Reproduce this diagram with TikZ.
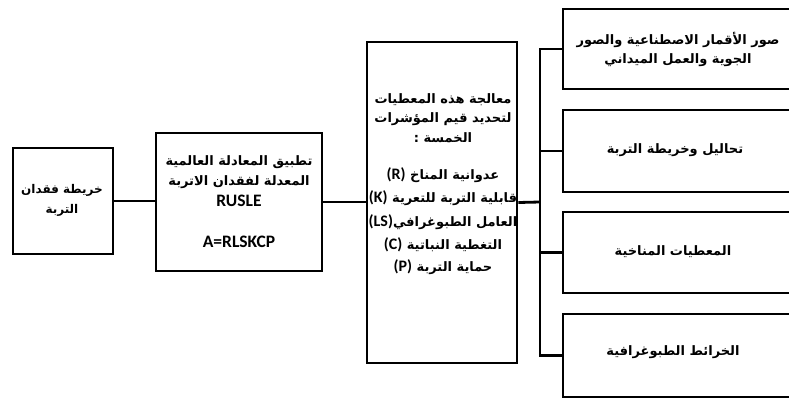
\documentclass[tikz,border=0pt]{standalone}
\usepackage{fontspec}
\TeXXeTstate=1
\newfontfamily\arfont[Script=Arabic]{DejaVu Sans}
\newfontfamily\latfont{Carlito}
\newcommand\latn[1]{{\latfont\bfseries\fontsize{16}{18}\selectfont #1}}
\newcommand\ar[1]{\beginR #1\endR}
\tikzset{
  box/.style={draw, line width=2.8pt, inner sep=0pt},
  conn/.style={line width=2.8pt},
  txt/.style={inner sep=0pt, font=\arfont\bfseries\fontsize{13}{15}\selectfont},
  lat/.style={inner sep=0pt, font=\latfont\bfseries\fontsize{17.5}{19}\selectfont}
}
\begin{document}
\begin{tikzpicture}[x=1pt,y=-1pt]
\useasboundingbox (0,0) rectangle (789,399);
% boxes
\node[box, minimum width=100pt, minimum height=106pt] (b1) at (63,201) {};
\node[box, minimum width=166pt, minimum height=138pt] (b2) at (239,202) {};
\node[box, minimum width=150pt, minimum height=321pt] (b3) at (442,202.5) {};
\node[box, minimum width=229pt, minimum height=80pt] (b4) at (677.5,49) {};
\node[box, minimum width=229pt, minimum height=82pt] (b5) at (677.5,151) {};
\node[box, minimum width=229pt, minimum height=81pt] (b6) at (677.5,252.5) {};
\node[box, minimum width=229pt, minimum height=83pt] (b7) at (677.5,355.5) {};
\coordinate (bus) at (540,202);
% connectors
\draw[conn] (b1.east) -- (b1.east -| b2.west);
\draw[conn] (b2.east) -- (b2.east -| b3.west);
\draw[conn] (b3.east) -- (bus);
\draw[conn] (b4.west) -| (bus) |- (b7.west);
\draw[conn] (b5.west) -- (b5.west -| bus);
\draw[conn] (b6.west) -- (b6.west -| bus);
% box 1 text
\node[txt, font=\arfont\bfseries\fontsize{12}{14}\selectfont] (t1a) at (62,190) {\ar{خريطة فقدان}};
\node[txt, font=\arfont\bfseries\fontsize{12}{14}\selectfont] (t1b) at (62,210) {\ar{التربة}};
% box 2 text
\node[txt] (t2a) at (239,162) {\ar{تطبيق المعادلة العالمية}};
\node[txt] (t2b) at (239,182) {\ar{المعدلة لفقدان الاتربة}};
\node[lat] (t2c) at (239,201) {RUSLE};
\node[lat] (t2d) at (239,242) {A=RLSKCP};
% box 3 text
\node[txt] (t3a) at (443,100) {\ar{معالجة هذه المعطيات}};
\node[txt] (t3b) at (443,119) {\ar{لتحديد قيم المؤشرات}};
\node[txt] (t3c) at (443,138) {\ar{الخمسة :}};
\node[txt] (t3d) at (443,175) {\latn{(R)}~\ar{عدوانية المناخ}};
\node[txt] (t3e) at (443,198) {\latn{(K)}~\ar{قابلية التربة للتعرية}};
\node[txt] (t3f) at (443,222) {\latn{(LS)}\ar{العامل الطبوغرافي}};
\node[txt] (t3g) at (443,245) {\latn{(C)}~\ar{التغطية النباتية}};
\node[txt] (t3h) at (443,267) {\latn{(P)}~\ar{حماية التربة}};
% right boxes text
\node[txt] (t4a) at (678,40) {\ar{صور الأقمار الاصطناعية والصور}};
\node[txt] (t4b) at (678,60) {\ar{الجوية والعمل الميداني}};
\node[txt] (t5) at (675,150) {\ar{تحاليل وخريطة التربة}};
\node[txt] (t6) at (673,252) {\ar{المعطيات المناخية}};
\node[txt] (t7) at (673,352) {\ar{الخرائط الطبوغرافية}};
\end{tikzpicture}
\end{document}
